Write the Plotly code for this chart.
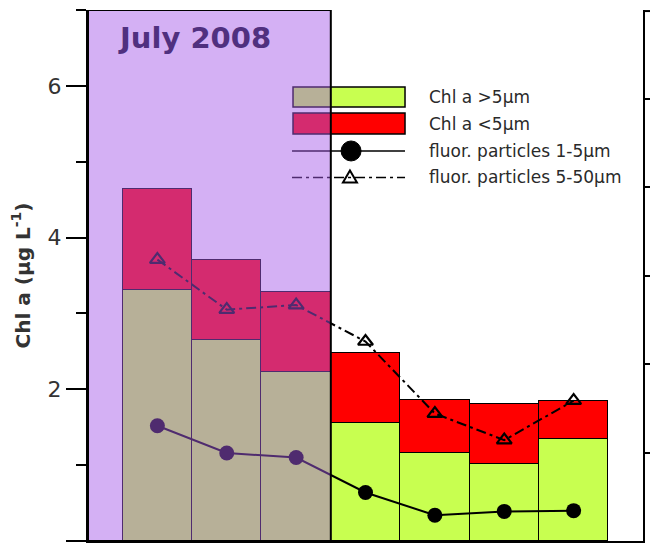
import plotly.graph_objects as go

# Stations along the transect; the first three were sampled in July 2008
stations = [1, 2, 3, 4, 5, 6, 7]
n_july = 3

# Size-fractionated chlorophyll a (µg L-1)
chl_gt5 = [3.31, 2.65, 2.23, 1.56, 1.16, 1.01, 1.35]
chl_lt5 = [1.33, 1.05, 1.05, 0.92, 0.70, 0.80, 0.49]

# Fluorescent particle abundances (plotted on the Chl a scale)
part_1_5 = [1.52, 1.16, 1.10, 0.64, 0.34, 0.39, 0.40]
part_5_50 = [3.71, 3.05, 3.11, 2.63, 1.68, 1.33, 1.85]

y_ticks = [0, 2, 4, 6]
y_minor = [1, 3, 5, 7]
right_ticks = [1, 2, 3, 4, 5]

legend_labels = ["Chl a >5µm", "Chl a <5µm",
                 "fluor. particles 1-5µm", "fluor. particles 5-50µm"]

GREEN = "#C8FF50"
RED = "#FF0000"
FONT = "DejaVu Sans, Verdana, sans-serif"
DASH = "10px,4px,3px,4px"

fig = go.Figure()
fig.add_trace(go.Bar(x=stations, y=chl_gt5, width=1,
                     marker=dict(color=GREEN, line=dict(color="black", width=1.5))))
fig.add_trace(go.Bar(x=stations, y=chl_lt5, width=1,
                     marker=dict(color=RED, line=dict(color="black", width=1.5))))
fig.add_trace(go.Scatter(x=stations, y=part_1_5, mode="lines+markers",
                         line=dict(color="black", width=2),
                         marker=dict(symbol="circle", size=15, color="black")))
fig.add_trace(go.Scatter(x=stations, y=part_5_50, mode="lines+markers",
                         line=dict(color="black", width=2, dash=DASH),
                         marker=dict(symbol="triangle-up-open", size=13, color="black",
                                     line=dict(width=2.2, color="black"))))
# empty trace so the adjoining panel's axis (y2) is rendered
fig.add_trace(go.Scatter(x=[None], y=[None], yaxis="y2", mode="markers",
                         hoverinfo="skip"))

boundary = n_july + 0.5
x_max = len(stations) + 1
y_max = 7

shapes = []
# hand-built legend (paper coordinates)
sw_x0, sw_x1 = 0.3694, 0.5712
shapes.append(dict(type="rect", xref="paper", yref="paper", x0=sw_x0, x1=sw_x1,
                   y0=0.8173, y1=0.855, fillcolor=GREEN,
                   line=dict(color="black", width=1.5), layer="above"))
shapes.append(dict(type="rect", xref="paper", yref="paper", x0=sw_x0, x1=sw_x1,
                   y0=0.7665, y1=0.806, fillcolor=RED,
                   line=dict(color="black", width=1.5), layer="above"))
shapes.append(dict(type="line", xref="paper", yref="paper", x0=0.3676, x1=sw_x1,
                   y0=0.7345, y1=0.7345, line=dict(color="black", width=1.5),
                   layer="above"))
shapes.append(dict(type="circle", xref="paper", yref="paper",
                   xsizemode="pixel", ysizemode="pixel", xanchor=0.474, yanchor=0.7345,
                   x0=-10, x1=10, y0=-10, y1=10, fillcolor="black",
                   line=dict(color="black", width=1), layer="above"))
shapes.append(dict(type="line", xref="paper", yref="paper", x0=0.3676, x1=sw_x1,
                   y0=0.6846, y1=0.6846, line=dict(color="black", width=1.5, dash=DASH),
                   layer="above"))
shapes.append(dict(type="path", xref="paper", yref="paper",
                   xsizemode="pixel", ysizemode="pixel", xanchor=0.472, yanchor=0.6846,
                   path="M -7,-5 L 7,-5 L 0,7 Z",
                   line=dict(color="black", width=2), layer="above"))
# translucent purple tint over the July 2008 stations
shapes.append(dict(type="rect", xref="x", yref="y", x0=0, x1=boundary, y0=0, y1=y_max,
                   fillcolor="rgba(165,90,232,0.48)", line=dict(width=0),
                   layer="above"))
shapes.append(dict(type="rect", xref="x", yref="y", x0=0, x1=boundary, y0=0, y1=y_max,
                   fillcolor="rgba(0,0,0,0)", line=dict(color="black", width=2),
                   layer="above"))
# corner of the adjoining panel
shapes.append(dict(type="line", xref="paper", yref="paper", x0=1, x1=1.05,
                   y0=0.998, y1=0.998, line=dict(color="black", width=2),
                   layer="above"))

annotations = [dict(text="<b>July 2008</b>", x=1.54, y=6.63, xref="x", yref="y",
                    showarrow=False, xanchor="center", yanchor="middle",
                    font=dict(family=FONT, size=29, color="#50307F"))]
legend_y = [0.836, 0.785, 0.7345, 0.6855]
for lab, ly in zip(legend_labels, legend_y):
    annotations.append(dict(text=lab, x=0.6108, y=ly, xref="paper", yref="paper",
                            showarrow=False, xanchor="left", yanchor="middle",
                            font=dict(family=FONT, size=17, color="#2a2a2a")))

fig.update_layout(
    width=650, height=546,
    margin=dict(l=88, r=7, t=10, b=5, autoexpand=False),
    paper_bgcolor="white", plot_bgcolor="white",
    barmode="stack", bargap=0, showlegend=False,
    shapes=shapes, annotations=annotations,
    xaxis=dict(range=[0, x_max], showline=True, linecolor="black", linewidth=2,
               showticklabels=False, ticks="", showgrid=False, zeroline=False,
               automargin=False),
    yaxis=dict(range=[0, y_max], tickvals=y_ticks, ticks="outside", ticklen=20,
               tickwidth=2, tickcolor="black", showline=True, linecolor="black",
               linewidth=2, showgrid=False, zeroline=False, automargin=False,
               minor=dict(tickvals=y_minor, ticks="outside", ticklen=10,
                          tickwidth=2, tickcolor="black"),
               tickfont=dict(family=FONT, size=22, color="#333333"),
               title=dict(text="<b>Chl a (µg L<sup>-1</sup>)</b>", standoff=12,
                          font=dict(family=FONT, size=20, color="#333333"))),
    yaxis2=dict(range=[0, 6], overlaying="y", side="right", tickvals=right_ticks,
                ticks="outside", ticklen=7, tickwidth=2, tickcolor="black",
                showline=True, linecolor="black", linewidth=2, automargin=False,
                showticklabels=False, showgrid=False, zeroline=False),
)

fig.write_html("out.html")
